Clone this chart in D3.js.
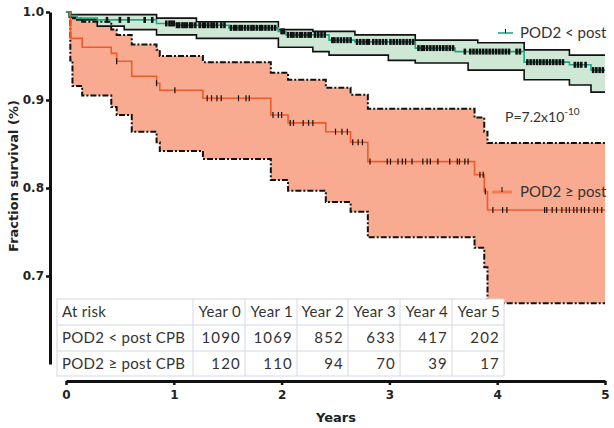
<!DOCTYPE html>
<html>
<head>
<meta charset="utf-8">
<script src="https://cdn.jsdelivr.net/npm/d3@7/dist/d3.min.js"></script>
<style>
body { margin: 0; background: #fff; }
svg { display: block; }
</style>
</head>
<body>
<svg width="614" height="428"></svg>
<script>
// POD2 < post CPB  (Kaplan-Meier estimate and 95% band)
var lowTimes = [0, 0.03, 0.10, 0.29, 0.54, 0.84, 1.02, 1.21, 1.51, 1.97, 2.04, 2.29, 2.44, 2.68, 2.99, 3.24, 3.61, 3.73, 3.82, 4.25, 4.67, 4.87]
var lowSurv  = [1.0, 0.996, 0.993, 0.991, 0.991, 0.987, 0.985, 0.985, 0.982, 0.978, 0.974, 0.974, 0.968, 0.966, 0.966, 0.959, 0.955, 0.955, 0.955, 0.943, 0.940, 0.934]
var lowUpper = [1.0, 0.997, 0.997, 0.997, 0.997, 0.993, 0.993, 0.989, 0.989, 0.980, 0.980, 0.978, 0.978, 0.974, 0.974, 0.968, 0.968, 0.968, 0.965, 0.957, 0.951, 0.951]
var lowLower = [1.0, 0.994, 0.991, 0.984, 0.980, 0.974, 0.974, 0.970, 0.970, 0.960, 0.960, 0.955, 0.951, 0.951, 0.945, 0.942, 0.942, 0.934, 0.934, 0.923, 0.917, 0.909]
var lowCensor = [0.38, 0.50, 0.58, 0.73, 0.80,
    0.93, 0.96, 0.98, 1.00, 1.03, 1.05, 1.08, 1.10, 1.12, 1.15, 1.17, 1.20, 1.24, 1.27, 1.29, 1.32, 1.35, 1.37, 1.40, 1.44, 1.47,
    1.53, 1.56, 1.58, 1.61, 1.63, 1.66, 1.69, 1.72, 1.74, 1.77, 1.80, 1.82, 1.85, 1.88, 1.91, 1.94,
    2.00, 2.02, 2.06, 2.09, 2.11, 2.14, 2.17, 2.19, 2.22, 2.25, 2.27, 2.31, 2.34, 2.37, 2.40,
    2.47, 2.49, 2.52, 2.55, 2.58, 2.61, 2.64, 2.70, 2.73, 2.76, 2.79, 2.81, 2.85, 2.88, 2.91, 2.94, 2.97,
    3.01, 3.04, 3.07, 3.10, 3.13, 3.16, 3.19, 3.22, 3.27, 3.30, 3.32, 3.35, 3.38, 3.41, 3.44, 3.47, 3.50, 3.53, 3.56, 3.59,
    3.70, 3.75, 3.78, 3.81, 3.84, 3.87, 3.90, 3.93, 3.96, 3.99, 4.02, 4.05, 4.08, 4.11, 4.18, 4.21,
    4.28, 4.31, 4.34, 4.37, 4.40, 4.43, 4.46, 4.49, 4.52, 4.55, 4.58, 4.61, 4.72, 4.75, 4.78, 4.82, 4.89, 4.92, 4.95, 4.98]

// POD2 >= post CPB
var highTimes = [0, 0.04, 0.06, 0.15, 0.42, 0.47, 0.61, 0.84, 0.87, 1.27, 1.90, 2.06, 2.41, 2.64, 2.80, 3.79, 3.88, 3.91]
var highSurv  = [1.0, 0.970, 0.970, 0.960, 0.953, 0.944, 0.927, 0.919, 0.911, 0.902, 0.883, 0.874, 0.864, 0.852, 0.830, 0.815, 0.796, 0.775]
var highUpper = [1.0, 0.993, 0.993, 0.989, 0.980, 0.974, 0.963, 0.957, 0.950, 0.943, 0.931, 0.923, 0.914, 0.906, 0.890, 0.880, 0.864, 0.851]
var highLower = [1.0, 0.945, 0.916, 0.905, 0.892, 0.883, 0.864, 0.852, 0.842, 0.833, 0.809, 0.797, 0.784, 0.773, 0.744, 0.732, 0.710, 0.669]
var highCensor = [0.47, 0.84, 1.01, 1.31, 1.35, 1.40, 1.44, 1.60, 1.67, 1.70, 1.92, 1.97, 2.00, 2.08, 2.11, 2.20, 2.25, 2.29,
    2.50, 2.56, 2.61, 2.66, 2.71, 2.75, 2.82, 2.98, 3.01, 3.08, 3.12, 3.15, 3.21, 3.31, 3.35, 3.38, 3.45, 3.56, 3.63, 3.65,
    3.70, 3.73, 3.84, 3.87, 3.89, 3.96, 4.05, 4.09, 4.44, 4.46, 4.51, 4.55, 4.60, 4.64, 4.67, 4.71, 4.74, 4.78, 4.81, 4.85,
    4.90, 4.93, 4.97]

// numbers at risk
var riskHeader = ['At risk', 'Year 0', 'Year 1', 'Year 2', 'Year 3', 'Year 4', 'Year 5']
var riskLabels = ['POD2 < post CPB', 'POD2 \u2265 post CPB']
var riskLow = [1090, 1069, 852, 633, 417, 202]
var riskHigh = [120, 110, 94, 70, 39, 17]

var yTicks = [0.7, 0.8, 0.9, 1.0]
var xTicks = [0, 1, 2, 3, 4, 5]

var svg = d3.select('svg')
var x = d3.scaleLinear().domain([0, 5]).range([66, 605])
var y = d3.scaleLinear().domain([0.6, 1.0]).range([364, 12])

var sans = 'Lato, "Open Sans", sans-serif'
var bold = '"DejaVu Sans", Verdana, sans-serif'

function steps(times, surv, upper, lower) {
    var pts = times.map(function (t, i) {
        return {t: t, s: surv[i], u: upper[i], l: lower[i]}
    })
    var last = pts[pts.length - 1]
    pts.push({t: 5, s: last.s, u: last.u, l: last.l})
    return pts
}

function survAt(times, surv, t) {
    var i = d3.bisectRight(times, t) - 1
    return surv[Math.max(i, 0)]
}

var low = steps(lowTimes, lowSurv, lowUpper, lowLower)
var high = steps(highTimes, highSurv, highUpper, highLower)

var band = d3.area()
    .curve(d3.curveStepAfter)
    .x(function (d) { return x(d.t) })
    .y0(function (d) { return y(d.l) })
    .y1(function (d) { return y(d.u) })

function stepLine(key) {
    return d3.line()
        .curve(d3.curveStepAfter)
        .x(function (d) { return x(d.t) })
        .y(function (d) { return y(d[key]) })
}

// bands
svg.append('path').datum(high).attr('d', band).attr('fill', '#f8ab90')
svg.append('path').datum(low).attr('d', band).attr('fill', '#cfe8d5')

;['u', 'l'].forEach(function (k) {
    svg.append('path').datum(high).attr('d', stepLine(k))
        .attr('fill', 'none').attr('stroke', '#111').attr('stroke-width', 2)
        .attr('stroke-dasharray', '6,2,2,2')
    svg.append('path').datum(low).attr('d', stepLine(k))
        .attr('fill', 'none').attr('stroke', '#111').attr('stroke-width', 1.6)
})

// survival curves
svg.append('path').datum(high).attr('d', stepLine('s'))
    .attr('fill', 'none').attr('stroke', '#ef5a2a').attr('stroke-width', 1.6)
svg.append('path').datum(low).attr('d', stepLine('s'))
    .attr('fill', 'none').attr('stroke', '#1fa98a').attr('stroke-width', 1.6)

// censor marks
svg.append('g').selectAll('line')
    .data(highCensor)
    .enter().append('line')
    .attr('x1', function (d) { return x(d) })
    .attr('x2', function (d) { return x(d) })
    .attr('y1', function (d) { return y(survAt(highTimes, highSurv, d)) - 3 })
    .attr('y2', function (d) { return y(survAt(highTimes, highSurv, d)) + 3 })
    .attr('stroke', '#111').attr('stroke-width', 1.2)

svg.append('g').selectAll('line')
    .data(lowCensor)
    .enter().append('line')
    .attr('x1', function (d) { return x(d) })
    .attr('x2', function (d) { return x(d) })
    .attr('y1', function (d) { return y(survAt(lowTimes, lowSurv, d)) - 3 })
    .attr('y2', function (d) { return y(survAt(lowTimes, lowSurv, d)) + 3 })
    .attr('stroke', '#111').attr('stroke-width', 2.6)

// legends and p value
svg.append('line').attr('x1', 498).attr('x2', 513).attr('y1', 33).attr('y2', 33)
    .attr('stroke', '#1fa98a').attr('stroke-width', 1.6)
svg.append('line').attr('x1', 505.5).attr('x2', 505.5).attr('y1', 29).attr('y2', 33)
    .attr('stroke', '#111').attr('stroke-width', 1)
svg.append('text').attr('x', 520).attr('y', 38).text('POD2 < post')
    .style('font-family', sans).style('font-size', '15px').attr('fill', '#333')

svg.append('line').attr('x1', 492).attr('x2', 512).attr('y1', 192).attr('y2', 192)
    .attr('stroke', '#f47a50').attr('stroke-width', 3)
svg.append('line').attr('x1', 502).attr('x2', 502).attr('y1', 187).attr('y2', 192)
    .attr('stroke', '#111').attr('stroke-width', 1)
svg.append('text').attr('x', 520).attr('y', 197).text('POD2 \u2265 post')
    .style('font-family', sans).style('font-size', '15px').attr('fill', '#333')

var p = svg.append('text').attr('x', 505).attr('y', 122)
    .style('font-family', sans).style('font-size', '14px').attr('fill', '#333')
p.append('tspan').text('P=7.2x10')
p.append('tspan').attr('dy', -7).style('font-size', '10px').text('-10')

// axes
var yAxis = svg.append('g')
    .attr('transform', 'translate(50,0)')
    .call(d3.axisLeft(y).tickValues(yTicks).tickFormat(d3.format('.1f')).tickSize(4).tickSizeOuter(0))
var xAxis = svg.append('g')
    .attr('transform', 'translate(0,381)')
    .call(d3.axisBottom(x).tickValues(xTicks).tickFormat(d3.format('d')).tickSize(4).tickSizeOuter(0))

;[yAxis, xAxis].forEach(function (g) {
    g.select('.domain').attr('stroke', '#111').attr('stroke-width', 3)
    g.selectAll('.tick line').attr('stroke', '#111').attr('stroke-width', 2.5)
    g.selectAll('.tick text')
        .style('font-family', bold).style('font-weight', 'bold').style('font-size', '12px')
        .attr('fill', '#222')
})
yAxis.selectAll('.tick text').attr('x', -6)
xAxis.selectAll('.tick text').attr('y', 9)

svg.append('text')
    .attr('transform', 'translate(18,176) rotate(-90)')
    .attr('text-anchor', 'middle')
    .style('font-family', bold).style('font-weight', 'bold').style('font-size', '13px')
    .attr('fill', '#222')
    .text('Fraction survival (%)')

svg.append('text')
    .attr('x', 336).attr('y', 422)
    .attr('text-anchor', 'middle')
    .style('font-family', bold).style('font-weight', 'bold').style('font-size', '13px')
    .attr('fill', '#222')
    .text('Years')

// at-risk table
var colEdges = [57, 193, 245, 297, 348, 400, 452, 504]
var rowEdges = [299, 325, 351, 376]
var rows = [riskHeader, [riskLabels[0]].concat(riskLow), [riskLabels[1]].concat(riskHigh)]

var table = svg.append('g')
table.append('rect')
    .attr('x', colEdges[0]).attr('y', rowEdges[0])
    .attr('width', colEdges[7] - colEdges[0]).attr('height', rowEdges[3] - rowEdges[0])
    .attr('fill', '#fff').attr('stroke', '#d5d8e6')
table.selectAll('line.v')
    .data(colEdges.slice(1, 7))
    .enter().append('line')
    .attr('x1', function (d) { return d }).attr('x2', function (d) { return d })
    .attr('y1', rowEdges[0]).attr('y2', rowEdges[3])
    .attr('stroke', '#d5d8e6')
table.selectAll('line.h')
    .data(rowEdges.slice(1, 3))
    .enter().append('line')
    .attr('x1', colEdges[0]).attr('x2', colEdges[7])
    .attr('y1', function (d) { return d }).attr('y2', function (d) { return d })
    .attr('stroke', '#d5d8e6')

rows.forEach(function (row, r) {
    table.selectAll(null)
        .data(row)
        .enter().append('text')
        .attr('x', function (d, c) { return c === 0 ? colEdges[0] + 5 : colEdges[c + 1] - 4 })
        .attr('y', (rowEdges[r] + rowEdges[r + 1]) / 2 + 5)
        .attr('text-anchor', function (d, c) { return c === 0 ? 'start' : 'end' })
        .style('font-family', sans).style('font-size', '15px')
        .style('letter-spacing', function (d, c) { return (r > 0 && c > 0) ? '1.2px' : '0.3px' })
        .attr('fill', '#333')
        .text(function (d) { return d })
})
</script>
</body>
</html>
